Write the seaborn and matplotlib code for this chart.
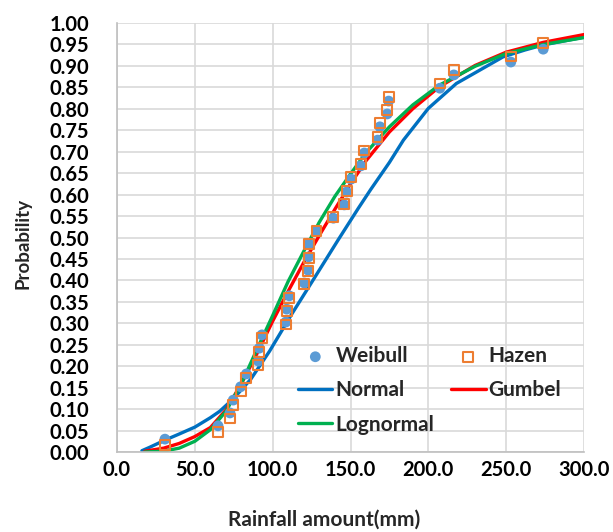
import pandas as pd
import matplotlib
matplotlib.use('Agg')
import matplotlib.pyplot as plt
import seaborn as sns
from matplotlib.ticker import MultipleLocator, FormatStrFormatter

# Observed rainfall (mm), ranked
rain = [30.8, 64.9, 72.6, 74.7, 79.4, 83.1, 90.8, 91.4, 93.1, 108.5,
        109.0, 110.7, 120.3, 122.7, 123.1, 123.3, 128.2, 139.0, 146.0, 147.5,
        150.3, 156.7, 158.9, 167.4, 168.9, 173.6, 174.5, 207.4, 216.4, 253.0,
        273.8]

# Plotting positions
weibull = [0.030, 0.061, 0.091, 0.121, 0.152, 0.182, 0.212, 0.242, 0.273, 0.303,
           0.333, 0.364, 0.394, 0.424, 0.455, 0.485, 0.515, 0.545, 0.576, 0.606,
           0.636, 0.667, 0.697, 0.727, 0.758, 0.788, 0.818, 0.848, 0.879, 0.909,
           0.939]
hazen = [0.016, 0.047, 0.078, 0.109, 0.141, 0.172, 0.203, 0.234, 0.266, 0.297,
         0.328, 0.359, 0.391, 0.422, 0.453, 0.484, 0.516, 0.547, 0.578, 0.609,
         0.641, 0.672, 0.703, 0.734, 0.766, 0.797, 0.828, 0.859, 0.891, 0.922,
         0.953]

# Fitted distribution curves
normal_x = [16, 21, 31, 40, 50, 60, 66, 75, 86, 98, 112, 126, 142, 155, 163,
            175, 184, 200, 218, 233, 248, 262, 274, 300]
normal_p = [0.003, 0.011, 0.028, 0.042, 0.058, 0.080, 0.095, 0.125, 0.170, 0.235,
            0.320, 0.401, 0.494, 0.568, 0.612, 0.675, 0.727, 0.801, 0.859, 0.890,
            0.921, 0.937, 0.949, 0.967]

gumbel_x = [18, 30, 40, 50, 60, 70, 80, 90, 100, 110, 120, 130, 140, 150, 160,
            175, 190, 207, 230, 250, 274, 300]
gumbel_p = [0.002, 0.009, 0.020, 0.036, 0.057, 0.098, 0.160, 0.230, 0.305, 0.375,
            0.442, 0.505, 0.566, 0.625, 0.679, 0.746, 0.800, 0.851, 0.901, 0.932,
            0.955, 0.973]

logn_x = [18, 30, 40, 50, 60, 70, 80, 90, 100, 110, 120, 130, 140, 150, 160,
          175, 190, 207, 230, 250, 274, 300]
logn_p = [0.000, 0.002, 0.009, 0.025, 0.052, 0.095, 0.160, 0.240, 0.318, 0.398,
          0.468, 0.536, 0.596, 0.648, 0.698, 0.758, 0.809, 0.855, 0.899, 0.929,
          0.950, 0.966]

sns.set_theme(style='whitegrid')
plt.rcParams['font.family'] = ['Lato', 'DejaVu Sans']
plt.rcParams['font.weight'] = 'bold'

fig = plt.figure(figsize=(6.13, 5.32), dpi=100)
ax = fig.add_axes([117 / 613, 1 - 452 / 532, 467 / 613, 429 / 532])

# fitted curves
sns.lineplot(x=normal_x, y=normal_p, sort=False, color='#0070C0', lw=2.4,
             label='Normal', ax=ax)
sns.lineplot(x=gumbel_x, y=gumbel_p, sort=False, color='#FF0000', lw=2.4,
             label='Gumbel', ax=ax)
sns.lineplot(x=logn_x, y=logn_p, sort=False, color='#00B050', lw=2.4,
             label='Lognormal', ax=ax)

# plotting positions
sns.scatterplot(x=rain, y=weibull, color='#5B9BD5', s=60, edgecolor='none',
                label='Weibull', zorder=3, ax=ax)
sns.scatterplot(x=rain, y=hazen, marker='s', s=50, facecolor='none',
                edgecolor='#ED7D31', linewidth=1.5, label='Hazen', zorder=4, ax=ax)

ax.set_xlim(0, 300)
ax.set_ylim(0, 1)
ax.xaxis.set_major_locator(MultipleLocator(50))
ax.yaxis.set_major_locator(MultipleLocator(0.05))
ax.xaxis.set_major_formatter(FormatStrFormatter('%.1f'))
ax.yaxis.set_major_formatter(FormatStrFormatter('%.2f'))
ax.grid(True, color='#D9D9D9', lw=1.2)
ax.tick_params(axis='x', labelsize=14.5, pad=6, length=0, colors='black')
ax.tick_params(axis='y', labelsize=14.5, pad=20, length=0, colors='black')
for lab in ax.get_xticklabels() + ax.get_yticklabels():
    lab.set_fontweight('bold')
for side in ['top', 'right']:
    ax.spines[side].set_visible(False)
for side in ['left', 'bottom']:
    ax.spines[side].set_color('#BFBFBF')
    ax.spines[side].set_linewidth(1.2)

ax.set_xlabel('Rainfall amount(mm)', fontsize=15, fontweight='bold')
ax.set_ylabel('Probability', fontsize=13.5, fontweight='bold')
ax.xaxis.set_label_coords(0.443, -0.135)
ax.yaxis.set_label_coords(-0.184, 0.487)

handles, labels = ax.get_legend_handles_labels()
lookup = dict(zip(labels, handles))
order = ['Weibull', 'Normal', 'Lognormal', 'Hazen', 'Gumbel']
ax.legend([lookup[k] for k in order], order, ncol=2, frameon=False,
          loc='upper left', bbox_to_anchor=(0.370, 0.266), fontsize=15,
          handlelength=1.65, handletextpad=0.15, labelspacing=0.68,
          columnspacing=0.8, borderaxespad=0)

fig.savefig('out.png', dpi=100)
